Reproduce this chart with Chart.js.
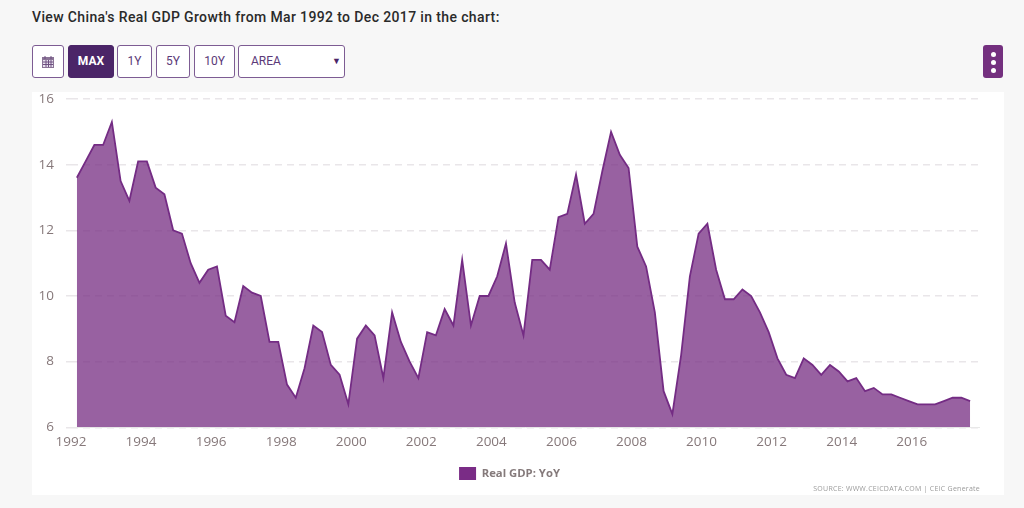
<!DOCTYPE html>
<html>
<head>
<meta charset="utf-8">
<title>China Real GDP Growth</title>
<script src="https://cdn.jsdelivr.net/npm/chart.js@4"></script>
<style>
    html, body { margin: 0; padding: 0; width: 1024px; height: 508px; overflow: hidden; background: #f7f7f7; font-family: Roboto, sans-serif; }
    h1 { position: absolute; left: 32px; top: 9px; margin: 0; font-size: 14px; line-height: 16px; font-weight: 500; letter-spacing: .37px; color: #2a2a2a; }
    .btn { position: absolute; top: 45px; height: 31px; line-height: 31px; box-sizing: content-box; border: 1px solid #7d5c93; border-radius: 3px; background: #fff; color: #5b3a78; font-size: 12px; text-align: center; }
    .btn.active { background: #4b2568; border-color: #4b2568; color: #fff; font-weight: 700; }
    .arrow { position: absolute; right: 3px; top: 0; font-size: 9px; color: #4b2568; }
    #menu { position: absolute; left: 983px; top: 45px; width: 20px; height: 33px; border-radius: 3px; background: #74307f; }
    #menu i { display: block; width: 5px; height: 5px; margin: 3px auto 0; border-radius: 50%; background: #fff; }
    #menu i:first-child { margin-top: 7px; }
    #panel { position: absolute; left: 32px; top: 92px; width: 972px; height: 403px; background: #fff; }
    #source { position: absolute; right: 24px; bottom: 2px; font-size: 7px; letter-spacing: .25px; color: #9a9a9a; font-family: "Open Sans", sans-serif; }
</style>
</head>
<body>
<h1>View China's Real GDP Growth from Mar 1992 to Dec 2017 in the chart:</h1>

<div class="btn" style="left:32px;width:30px">
    <svg width="14" height="14" viewBox="0 0 14 14" style="margin-top:9px"><rect x="1" y="2" width="12" height="11" fill="#8a7396"/><rect x="2" y="5" width="10" height="7" fill="#e9e2ee"/><path d="M4 1v3M10 1v3M2 7h10M2 9.500h10M5 5v7M7.500 5v7M10 5v7" stroke="#6d4f80" stroke-width="1" fill="none"/></svg>
</div>
<div class="btn active" style="left:68px;width:44px">MAX</div>
<div class="btn" style="left:117px;width:33px">1Y</div>
<div class="btn" style="left:156px;width:32px">5Y</div>
<div class="btn" style="left:194px;width:39px">10Y</div>
<div class="btn" style="left:238px;width:105px;text-align:left;text-indent:12px">AREA<span class="arrow">&#9660;</span></div>
<div id="menu"><i></i><i></i><i></i></div>

<div id="panel">
    <canvas id="gdp" width="972" height="403"></canvas>
    <div id="source">SOURCE: WWW.CEICDATA.COM | CEIC Generate</div>
</div>

<script>
// first quarter is Mar 1992, last one Sep 2017
const startYear = 1992;
const startMonth = 3;
const yearTicks = [1992, 1994, 1996, 1998, 2000, 2002, 2004, 2006, 2008, 2010, 2012, 2014, 2016];
const valueTicks = [6, 8, 10, 12, 14, 16];
const seriesName = 'Real GDP: YoY';

const gdpYoY = [
    13.6, 14.1, 14.6, 14.6,
    15.3, 13.5, 12.9, 14.1,
    14.1, 13.3, 13.1, 12.0,
    11.9, 11.0, 10.4, 10.8,
    10.9, 9.4, 9.2, 10.3,
    10.1, 10.0, 8.6, 8.6,
    7.3, 6.9, 7.8, 9.1,
    8.9, 7.9, 7.6, 6.7,
    8.7, 9.1, 8.8, 7.5,
    9.5, 8.6, 8.0, 7.5,
    8.9, 8.8, 9.6, 9.1,
    11.1, 9.1, 10.0, 10.0,
    10.6, 11.6, 9.8, 8.8,
    11.1, 11.1, 10.8, 12.4,
    12.5, 13.7, 12.2, 12.5,
    13.8, 15.0, 14.3, 13.9,
    11.5, 10.9, 9.5, 7.1,
    6.4, 8.2, 10.6, 11.9,
    12.2, 10.8, 9.9, 9.9,
    10.2, 10.0, 9.5, 8.9,
    8.1, 7.6, 7.5, 8.1,
    7.9, 7.6, 7.9, 7.7,
    7.4, 7.5, 7.1, 7.2,
    7.0, 7.0, 6.9, 6.8,
    6.7, 6.7, 6.7, 6.8,
    6.9, 6.9, 6.8
];

// x position of each quarter, as a decimal year
const quarters = gdpYoY.map((v, i) => startYear + (startMonth - 1 + i * 3) / 12);

const tickColor = '#86787a';
const tickFont = { family: '"Open Sans", sans-serif', size: 13.5 };

// legend sits a bit right of where chart.js centres it
const legendNudge = {
    id: 'legendNudge',
    afterLayout(chart) {
        chart.legend.left += 4;
        chart.legend.right += 4;
    }
};

new Chart(document.getElementById('gdp'), {
    type: 'line',
    plugins: [legendNudge],
    data: {
        datasets: [{
            label: seriesName,
            data: quarters.map((x, i) => ({ x: x, y: gdpYoY[i] })),
            borderColor: '#742c84',
            borderWidth: 1.8,
            backgroundColor: 'rgba(118, 44, 130, 0.75)',
            fill: 'start',
            pointRadius: 0,
            tension: 0
        }]
    },
    options: {
        responsive: false,
        animation: false,
        layout: { padding: { top: 7, right: 25, bottom: 5, left: 0 } },
        plugins: {
            tooltip: { enabled: false },
            legend: {
                position: 'bottom',
                labels: {
                    boxWidth: 17,
                    boxHeight: 13,
                    padding: 9.5,
                    color: '#857a7b',
                    font: { family: '"Open Sans", sans-serif', size: 11.3, weight: 'bold' },
                    // the swatch is solid in the original, not the see-through area colour
                    generateLabels: chart => [{
                        text: seriesName,
                        fillStyle: '#7a2c86',
                        strokeStyle: '#7a2c86',
                        lineWidth: 0,
                        fontColor: '#857a7b',
                        datasetIndex: 0
                    }]
                }
            }
        },
        scales: {
            x: {
                type: 'linear',
                min: 1992,
                max: 2017.92,
                afterBuildTicks: axis => { axis.ticks = yearTicks.map(y => ({ value: y })); },
                grid: { display: false, drawTicks: false },
                border: { color: '#e8e8e8' },
                ticks: {
                    color: tickColor,
                    font: tickFont,
                    padding: 7,
                    maxRotation: 0,
                    autoSkip: false,
                    callback: v => String(v)
                }
            },
            y: {
                min: 6,
                max: 16,
                afterBuildTicks: axis => { axis.ticks = valueTicks.map(v => ({ value: v })); },
                afterFit: axis => {
                    axis.width = 39;
                    // tick padding would otherwise push the plot top down
                    axis.paddingTop = 0;
                    axis.paddingBottom = 0;
                },
                grid: { color: '#e9e6e9', lineWidth: 1.5, tickLength: 5, tickColor: '#e9e6e9' },
                border: { display: false, dash: [7, 5] },
                ticks: { color: tickColor, font: tickFont, padding: 12 }
            }
        }
    }
});
</script>
</body>
</html>
